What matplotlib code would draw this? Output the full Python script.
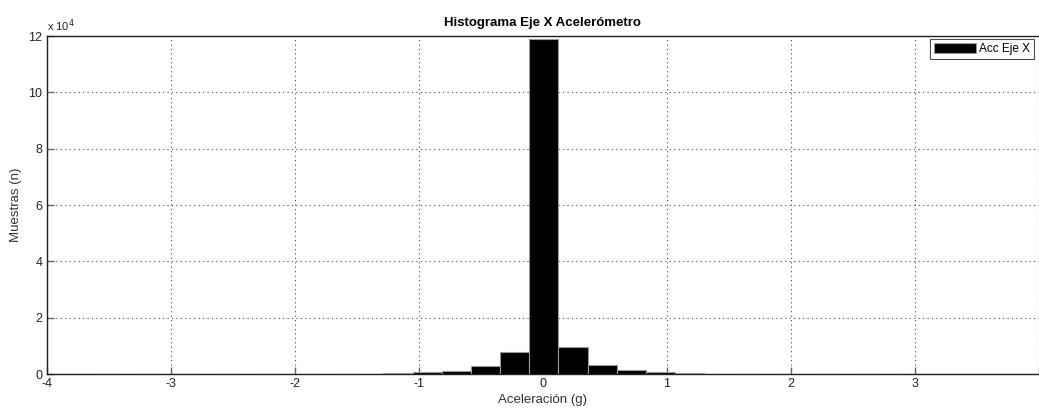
import numpy as np
import matplotlib
matplotlib.use("Agg")
import matplotlib.pyplot as plt

# Histogram of X-axis accelerometer readings (28 equal bins)
x_min, x_max = -3.635, 2.946
counts = [40, 40, 40, 40, 40, 40, 40, 40, 40, 40,
          300, 600, 1100, 2700, 7700, 119000, 9700, 3300, 1300, 600,
          200, 60, 50, 50, 40, 40, 40, 30]
x_ticks = [-4, -3, -2, -1, 0, 1, 2, 3, 4]
x_tick_labels = ['-4', '-3', '-2', '-1', '0', '1', '2', '3', '']
y_ticks = [0, 2e4, 4e4, 6e4, 8e4, 10e4, 12e4]

edges = np.linspace(x_min, x_max, len(counts) + 1)
widths = np.diff(edges)

plt.rcParams['font.family'] = ['Liberation Sans', 'DejaVu Sans']

fig = plt.figure(figsize=(10.39, 4.11), dpi=100)
ax = fig.add_axes([0.0449, 0.09, 0.9551, 0.822])

ax.bar(edges[:-1], counts, width=widths, align='edge', color='black',
       edgecolor='#9a9a9a', linewidth=0.8, label='Acc Eje X', zorder=3)

ax.set_xlim(-4, 4)
ax.set_ylim(0, 12e4)
ax.set_xticks(x_ticks)
ax.set_xticklabels(x_tick_labels)
ax.set_yticks(y_ticks)
ax.set_yticklabels([f"{t/1e4:g}" for t in y_ticks])

ax.grid(True, linestyle=(0, (1, 3)), color='#444444', linewidth=0.8, zorder=0)
ax.tick_params(direction='in', length=5, width=1, color='#666666',
               labelsize=9, labelcolor='#222222', pad=3)
for side in ('left', 'bottom', 'top'):
    ax.spines[side].set_linewidth(1.0)
    ax.spines[side].set_color('#222222')
ax.spines['right'].set_visible(False)

ax.text(0.0, 1.006, r"x 10$^{4}$", transform=ax.transAxes, fontsize=8,
        ha='left', va='bottom', color='#222222')

ax.set_title("Histograma Eje X Acelerómetro", fontsize=9.5, fontweight='bold',
             pad=7)
ax.set_xlabel("Aceleración (g)", fontsize=9.5, color='#333333', labelpad=3)
ax.set_ylabel("Muestras (n)", fontsize=9.5, color='#333333', labelpad=5)

leg = ax.legend(loc='upper right', fontsize=8.5, frameon=True, fancybox=False,
                edgecolor='#222222', borderpad=0.35, handlelength=3.6,
                handleheight=1.0, handletextpad=0.2, borderaxespad=0.2,
                bbox_to_anchor=(0.997, 1.0))
leg.get_frame().set_linewidth(0.8)

fig.savefig("out.png", dpi=100)
